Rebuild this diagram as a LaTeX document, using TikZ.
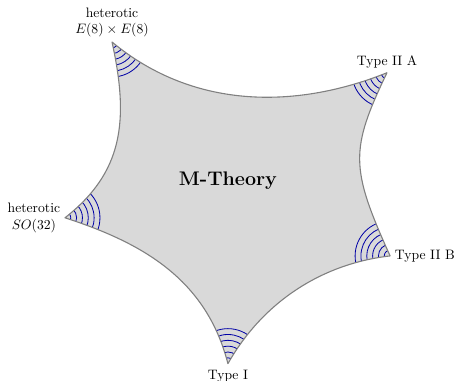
\documentclass[tikz,border=0pt]{standalone}

\tikzset{
    limit/.style={align=center},
    wave/.style={blue!65!black, line width=0.6pt},
}

% boundary of the moduli space, cusp to cusp
\newcommand{\moduliedge}{(het8) .. controls (5.04,6.92) and (7.71,7.02) .. (iia)
    .. controls (9.00,5.94) and (9.00,5.48) .. (iib)
    .. controls (8.28,3.01) and (6.76,2.03) .. (typeI)
    .. controls (5.30,2.62) and (3.65,3.55) .. (het32)
    .. controls (3.15,5.35) and (3.33,6.66) .. cycle}

\begin{document}
\begin{tikzpicture}
    \useasboundingbox (0,0) rectangle (11.75,9.79);

    \coordinate (het8)  at (2.88,8.71);
    \coordinate (iia)   at (9.95,7.92);
    \coordinate (iib)   at (10.03,3.21);
    \coordinate (typeI) at (5.86,0.44);
    \coordinate (het32) at (1.67,4.19);

    \fill[gray!30] \moduliedge;

    \begin{scope}
        \clip \moduliedge;
        \foreach \c in {het8,iia,iib,typeI,het32} {
            \foreach \r in {1,...,6} {
                \draw[wave] (\c) circle [radius=0.15*\r];
            }
        }
    \end{scope}

    \draw[gray, line width=0.8pt, line join=round] \moduliedge;

    \node (mth) at (5.86,5.14) {\Large\bfseries M-Theory};

    \node[limit, above] (lhet8) at (het8) {heterotic\\\(E(8)\times E(8)\)};
    \node[limit, above] (liia) at (iia) {Type II A};
    \node[limit, right] (liib) at (iib) {Type II B};
    \node[limit, below=1pt] (ltypeI) at (typeI) {Type I};
    \node[limit, left] (lhet32) at (het32) {heterotic\\\(SO(32)\)};
\end{tikzpicture}
\end{document}
